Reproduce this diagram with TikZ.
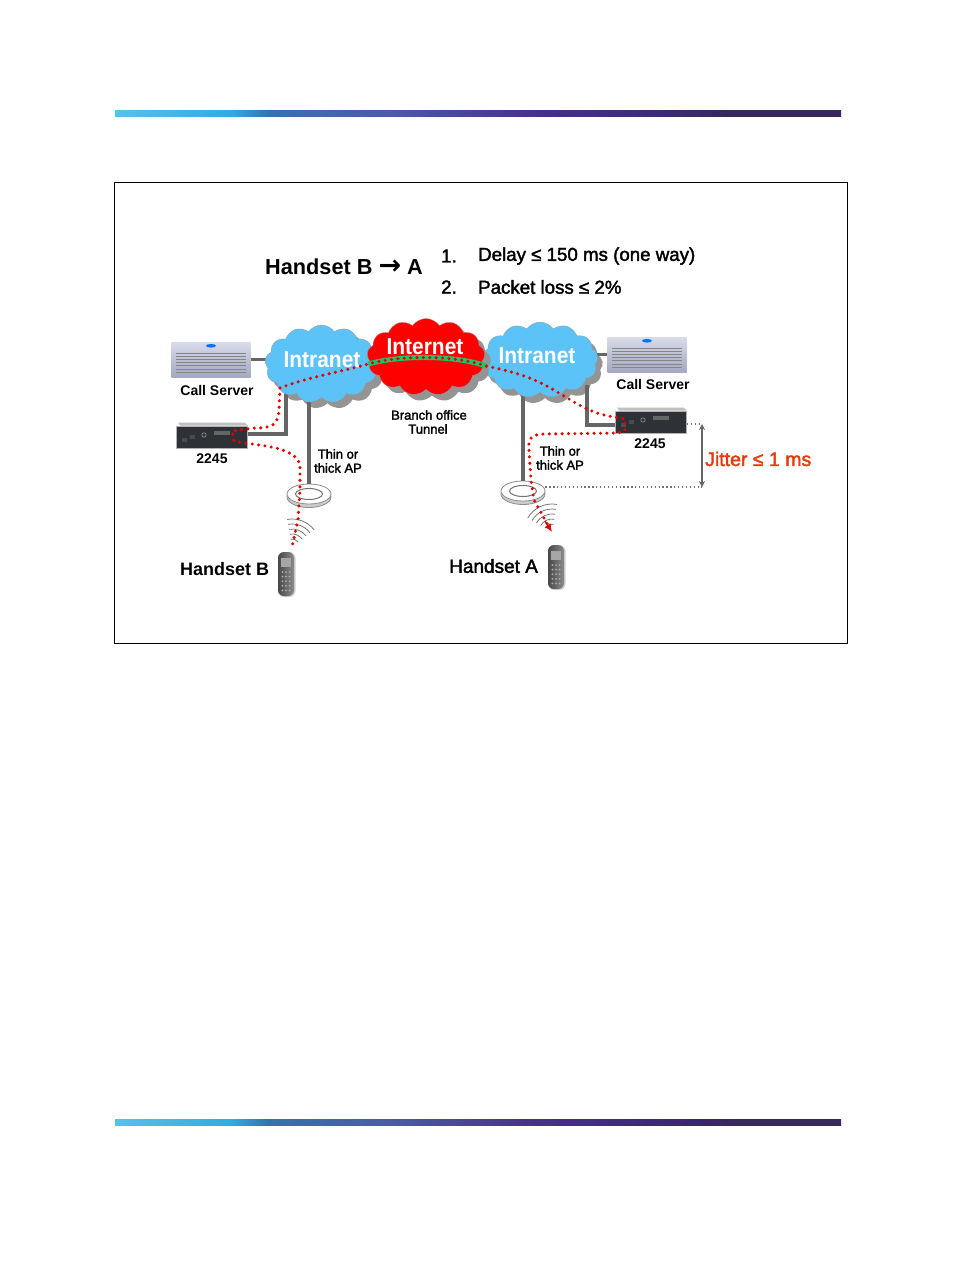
\documentclass[tikz,border=0pt]{standalone}
\usepackage{fontspec}
\setmainfont{Liberation Sans}
\newfontfamily\semi[FakeBold=2]{Liberation Sans}
\newfontfamily\arrowfont{DejaVu Sans}
\usetikzlibrary{shapes.symbols,shapes.geometric,arrows.meta,calc}
\definecolor{barA}{HTML}{5CC0E6}
\definecolor{barB}{HTML}{2DADE4}
\definecolor{barC}{HTML}{3A70B0}
\definecolor{barD}{HTML}{4A5BA8}
\definecolor{barE}{HTML}{47308A}
\definecolor{barF}{HTML}{38265F}
\definecolor{cloudblue}{HTML}{5CC3F8}
\definecolor{linkgray}{HTML}{666666}
\definecolor{srvA}{HTML}{D9DBE9}
\definecolor{srvB}{HTML}{A4A8C0}
\definecolor{boxdark}{HTML}{2E3136}
\definecolor{jit}{HTML}{E8380D}
\definecolor{tun}{HTML}{19C66A}
\pgfdeclarehorizontalshading{barshade}{100bp}{
 color(0bp)=(barA); color(25bp)=(barA); color(33bp)=(barB); color(35.5bp)=(barC); color(44bp)=(barD);
 color(54bp)=(barE); color(67.5bp)=(barF); color(75bp)=(barF); color(100bp)=(barF)}
\tikzset{
 topbar/.style={shading=barshade,draw=none},
 pcloud/.style={cloud,cloud puffs=#1,cloud puff arc=110,aspect=1.45,inner sep=0pt,outer sep=0pt},
 cshadow/.style={fill=black!42,draw=none},
 link/.style={draw=linkgray,line width=3.2pt},
 rdots/.style={draw=red!90!black,line width=3.4pt,line cap=round,dash pattern=on 0pt off 6.4pt},
 gdots/.style={draw=black!55,line width=1.1pt,dash pattern=on 1.3pt off 2.6pt},
 wave/.style={draw=black!60,line width=.7pt},
 cloudtxt/.style={text=white,font=\bfseries\fontsize{23}{23}\selectfont,inner sep=0pt},
 lbl/.style={font=\semi\fontsize{13}{14}\selectfont,inner sep=0pt},
 blbl/.style={font=\bfseries\fontsize{14}{15}\selectfont,inner sep=0pt},
 hlbl/.style={font=\semi\fontsize{18.7}{19}\selectfont,inner sep=0pt,anchor=west},
 plbl/.style={font=\semi\fontsize{19}{20}\selectfont,inner sep=0pt,anchor=west},
 srv/.style={draw=none,top color=srvA,bottom color=srvB,minimum width=79pt,minimum height=35pt,inner sep=0pt},
 gw/.style={fill=boxdark,draw=black!30,line width=.6pt,minimum width=71pt,minimum height=22pt,inner sep=0pt},
 ap/.style={ellipse,draw=black!45,line width=.8pt,fill=white,inner sep=0pt},
}
\newcommand{\ctext}[1]{\scalebox{.91}[1]{#1}}
\newcommand{\serverart}[1]{%
 \foreach \k in {0.32,0.41,0.50,0.59,0.68,0.77,0.86}
  \draw[black!48,line width=1.1pt] ($(#1.north west)!\k!(#1.south west)+(5,0)$) -- ($(#1.north east)!\k!(#1.south east)+(-5,0)$);
 \fill[blue!55!cyan] ($(#1.north)+(0,4)$) ellipse (5 and 1.8);
}
\newcommand{\boxart}[1]{%
 \fill[black!25] ($(#1.north west)+(2,-3)$) -- ($(#1.north east)+(-3,-3)$) -- ($(#1.north east)+(0,0)$) -- ($(#1.north west)+(4,0)$) -- cycle;
 \fill[black!70] ($(#1.west)+(6,1)$) rectangle +(5,4);
 \fill[black!70] ($(#1.west)+(14,-2)$) rectangle +(5,4);
 \fill[black!60] ($(#1.center)+(2,-6)$) rectangle +(16,4);
 \draw[black!40,line width=.6pt] ($(#1.center)+(-8,-2)$) circle (2.2);
}
\newcommand{\phoneart}[2]{%
 \fill[black!18,rounded corners=6pt] ($(#1)+(-8,-22)$) rectangle ($(#1)+(9.5,23)$);
 \shade[left color=black!72,right color=black!45,rounded corners=6pt] ($(#1)+(-8,-22)$) rectangle ($(#1)+(8,22)$);
 \fill[black!35] ($(#1)+(-5,-16)$) rectangle ($(#1)+(5,-7)$);
 \foreach \r in {0,...,4}\foreach \c in {-1,0,1}
  \fill[black!32] ($(#1)+(\c*3.6,-2+\r*4.6)$) circle (1);
}
\begin{document}
\begin{tikzpicture}[x=1pt,y=-1pt]
\useasboundingbox (0,0) rectangle (954,1272);
\fill[white] (0,0) rectangle (954,1272);
\path[topbar] (115,110) rectangle (841,116);
\path[topbar] (115,1119) rectangle (841,1125);
\draw[black,line width=.8pt] (114.5,182.5) rectangle (847.5,643.5);

\node[srv] (srvL) at (211,359.5) {};
\node[srv] (srvR) at (647,354.5) {};
\serverart{srvL}\serverart{srvR}
\node[gw] (gwL) at (212,437) {};
\node[gw] (gwR) at (651,422) {};
\boxart{gwL}\boxart{gwR}
\coordinate (junL) at (286,434);
\coordinate (junR) at (587,425);
\coordinate (upL) at (286,392);
\coordinate (upR) at (587,385);
\coordinate (apupL) at (309,395);
\coordinate (apupR) at (523,392);
\coordinate (srvLc) at (285,359.5);
\coordinate (srvRc) at (580,354.5);

% clouds
\node[pcloud=13,cshadow,minimum width=113pt,minimum height=78pt] (shL) at (327.5,370) {};
\node[pcloud=13,cshadow,minimum width=116pt,minimum height=76pt] (shR) at (545,366) {};
\draw[link] (srvL.east) -- (srvLc);
\draw[link] (srvR.west) -- (srvRc);
\draw[link] (gwL.east |- junL) -- (junL) -- (upL);
\draw[link] (gwR.west |- junR) -- (junR) -- (upR);
\node[ap,minimum width=44pt,minimum height=21pt,fill=black!20] (apL0) at (309,497) {};
\node[ap,minimum width=44pt,minimum height=20pt] (apL) at (309,494) {};
\node[ap,minimum width=27pt,minimum height=11pt,draw=black!55,line width=1pt] (apLi) at (309,494) {};
\node[ap,minimum width=44pt,minimum height=21pt,fill=black!20] (apR0) at (523,494) {};
\node[ap,minimum width=44pt,minimum height=20pt] (apR) at (523,491) {};
\node[ap,minimum width=27pt,minimum height=11pt,draw=black!55,line width=1pt] (apRi) at (523,491) {};
\draw[link] (apupL) -- (apL.north);
\draw[link] (apupR) -- (apR.north);

\node[pcloud=13,fill=cloudblue,draw=black!40,line width=.3pt,minimum width=113pt,minimum height=78pt] (cL) at (321.5,364) {};
\node[pcloud=13,fill=cloudblue,draw=black!40,line width=.3pt,minimum width=116pt,minimum height=76pt] (cR) at (540,360) {};
\node[pcloud=13,cshadow,minimum width=118pt,minimum height=77pt] (shI) at (432,363) {};
\node[pcloud=13,fill=red,draw=black!40,line width=.3pt,minimum width=118pt,minimum height=77pt] (cI) at (426,357) {};

\node[cloudtxt] (tL) at (322,360) {\ctext{Intranet}};
\node[cloudtxt] (tI) at (425,347) {\ctext{Internet}};
\node[cloudtxt] (tR) at (537,356) {\ctext{Intranet}};

% waves
\coordinate (wL) at (292,547);
\coordinate (wR) at (552,532);
\foreach \r in {8,13,18,23,28}{
 \draw[wave] ($(wL)+(-100:\r)$) arc[start angle=-100,end angle=-38,radius=\r];
 \draw[wave] ($(wR)+(-150:\r)$) arc[start angle=-150,end angle=-80,radius=\r];
}
% tunnel
\coordinate (tunA) at (368,364);
\coordinate (tunB) at (486,366);
\draw[tun,line width=5pt] (tunA) .. controls (400,355) and (455,355) .. (tunB);
% traffic path
\coordinate (pStart) at (280,388);
\draw[rdots] (pStart) .. controls (305,378) and (340,372) .. (tunA)
  .. controls (400,355) and (455,355) .. (tunB)
  .. controls (515,372) and (535,378) .. (557,392)
  .. controls (575,402) and (590,414) .. (615,417)
  -- (625,419) -- (625,430) -- (618,433) -- (545,434)
  .. controls (530,434) and (528,440) .. (529,450)
  -- (531,480) -- (534,500) -- (549,527);
\draw[-{Latex[length=8pt,width=7pt]},draw=red!90!black,line width=1.2pt] (545,521) -- (wR);
\draw[rdots] (pStart) -- (279,410) .. controls (278,425) and (272,428) .. (255,428)
  -- (232,431) -- (234,441)
  .. controls (255,446) and (295,445) .. (300,465)
  -- (300,490) -- (298,520) -- (wL) -- (292,546);
% jitter
\coordinate (jitT) at (702,424);
\coordinate (jitB) at (702,487);
\draw[gdots] (gwR.east |- jitT) -- (jitT);
\draw[gdots] (apR.east |- jitB) -- (jitB);
\draw[{Stealth[length=6pt,width=6pt]}-{Stealth[length=6pt,width=6pt]},draw=linkgray,line width=1.5pt] (jitT) -- (jitB);

\phoneart{286,574}{}
\phoneart{556,567}{}

% labels
\node[font=\bfseries\fontsize{21.7}{22}\selectfont,inner sep=0pt,anchor=west] (ttl) at (265,267) {Handset B {\arrowfont\fontsize{27}{22}\selectfont →} A};
\node[hlbl] (n1) at (441,256) {1.};
\node[hlbl] (n2) at (441,287) {2.};
\node[hlbl] (d1) at (478,256) {Delay ≤ 150 ms (one way)};
\node[hlbl] (d2) at (478,287) {Packet loss ≤ 2\%};
\node[blbl] (csL) at (217,390) {Call Server};
\node[blbl] (csR) at (653,384) {Call Server};
\node[blbl] (nL) at (212,459) {2245};
\node[blbl] (nR) at (650,444) {2245};
\node[lbl] (bo) at (429,415) {Branch office};
\node[lbl] (tu) at (428,429) {Tunnel};
\node[lbl] (a1) at (338,454) {Thin or};
\node[lbl] (a2) at (338,468) {thick AP};
\node[lbl] (a3) at (560,451) {Thin or};
\node[lbl] (a4) at (560,465) {thick AP};
\node[plbl,font=\bfseries\fontsize{18}{19}\selectfont] (hB) at (180,569) {Handset B};
\node[plbl] (hA) at (449,566) {Handset A};
\node[plbl,text=jit,font=\semi\fontsize{19.5}{20}\selectfont] (jt) at (705,459) {Jitter ≤ 1 ms};
\end{tikzpicture}
\end{document}
